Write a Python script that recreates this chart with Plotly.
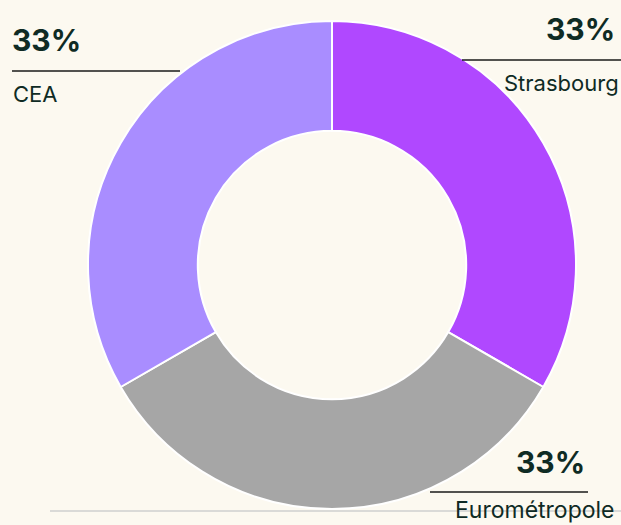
import plotly.graph_objects as go

W, H = 621, 525

labels = ["Strasbourg", "Eurométropole", "CEA"]
values = [1, 1, 1]
pct_labels = ["33%", "33%", "33%"]
colors = ["#b048ff", "#a6a6a6", "#a98dff"]

bg = "#fcf9f0"
ink = "#0f2b24"


def px_x(x):
    return x / W


def px_y(y):
    return 1 - y / H


fig = go.Figure()

fig.add_trace(go.Pie(
    labels=labels,
    values=values,
    hole=0.55,
    sort=False,
    direction="clockwise",
    rotation=0,
    marker=dict(colors=colors, line=dict(color="white", width=2)),
    textinfo="none",
    hoverinfo="label+percent",
    showlegend=False,
    domain=dict(x=[88 / W, 576 / W], y=[16 / H, 504 / H]),
))

# label blocks: (pct x, pct y, anchor, line x0, line x1, line y, name x, name y, name size)
blocks = [
    (617, 29, "right", 462, 621, 60, 621, 83, 22),
    (587, 462, "right", 430, 588, 492, 617, 510, 23),
    (10, 40, "left", 12, 180, 71, 11, 94, 22),
]

shapes = [dict(type="line", xref="paper", yref="paper",
               x0=px_x(50), x1=1, y0=px_y(511), y1=px_y(511),
               line=dict(color="#cfcfcf", width=1.5), layer="below")]
annotations = []
for (px_, py_, anc, lx0, lx1, ly, nx, ny, ns), name, pct in zip(blocks, labels, pct_labels):
    annotations.append(dict(x=px_x(px_), y=px_y(py_), xref="paper", yref="paper",
                            text="<b>" + pct + "</b>", showarrow=False,
                            xanchor=anc, yanchor="middle",
                            font=dict(family="Inter", size=30, weight=800, color=ink)))
    annotations.append(dict(x=px_x(nx), y=px_y(ny), xref="paper", yref="paper",
                            text=name, showarrow=False,
                            xanchor=anc, yanchor="middle",
                            font=dict(family="Inter", size=ns, color=ink)))
    shapes.append(dict(type="line", xref="paper", yref="paper",
                       x0=px_x(lx0), x1=px_x(lx1), y0=px_y(ly), y1=px_y(ly),
                       line=dict(color="#1a1a1a", width=1.5)))

fig.update_layout(
    width=W, height=H,
    margin=dict(l=0, r=0, t=0, b=0),
    paper_bgcolor=bg,
    plot_bgcolor=bg,
    shapes=shapes,
    annotations=annotations,
)

fig.write_html("out.html", config={"displayModeBar": False},
               post_script="document.body.style.margin='0';")
